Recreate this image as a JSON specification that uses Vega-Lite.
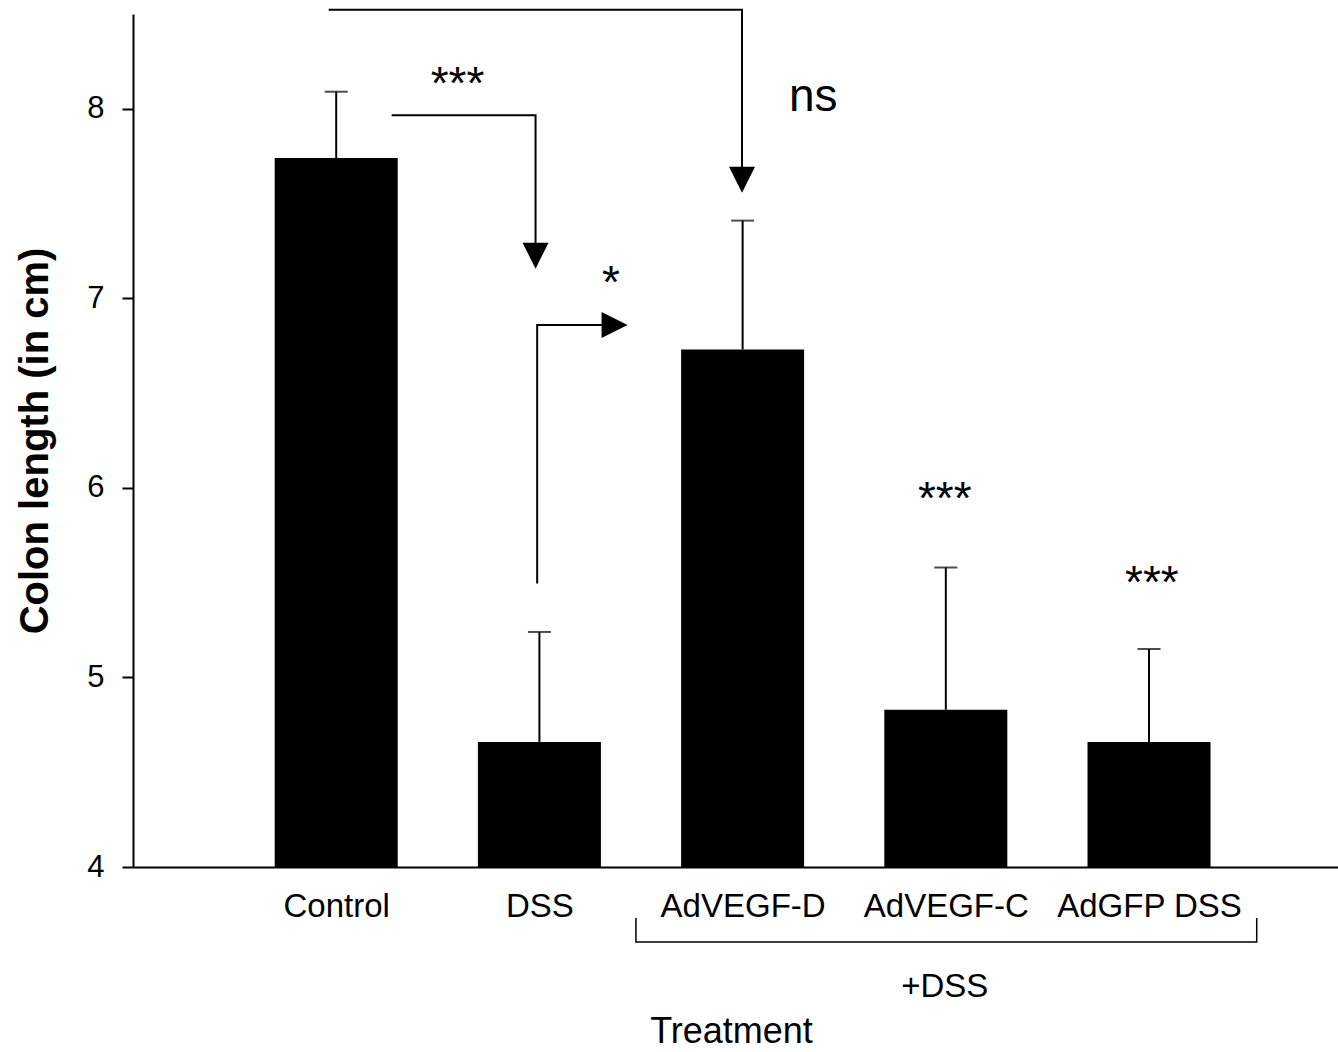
{
  "$schema": "https://vega.github.io/schema/vega-lite/v6.json",
  "width": 1205,
  "height": 853,
  "autosize": "none",
  "padding": {"left": 133, "top": 14, "right": 0, "bottom": 185},
  "background": "white",
  "config": {
    "view": {"stroke": null},
    "font": "Liberation Sans",
    "scale": {"continuousPadding": 0},
    "axis": {"grid": false, "domainColor": "black", "domainWidth": 2, "tickColor": "black", "tickWidth": 2, "labelColor": "black", "titleColor": "black", "labelFont": "Liberation Sans", "titleFont": "Liberation Sans"}
  },
  "datasets": {
    "bars": [
      {"treatment": "Control", "pos": 1, "mean": 7.74, "upper": 8.09},
      {"treatment": "DSS", "pos": 2, "mean": 4.66, "upper": 5.24},
      {"treatment": "AdVEGF-D", "pos": 3, "mean": 6.73, "upper": 7.41},
      {"treatment": "AdVEGF-C", "pos": 4, "mean": 4.83, "upper": 5.58},
      {"treatment": "AdGFP DSS", "pos": 5, "mean": 4.66, "upper": 5.15}
    ],
    "arrows": [
      {"g": "a1", "i": 1, "x": 1.273, "y": 7.966},
      {"g": "a1", "i": 2, "x": 1.981, "y": 7.966},
      {"g": "a1", "i": 3, "x": 1.981, "y": 7.26},
      {"g": "a2", "i": 1, "x": 0.963, "y": 8.523},
      {"g": "a2", "i": 2, "x": 2.997, "y": 8.523},
      {"g": "a2", "i": 3, "x": 2.997, "y": 7.66},
      {"g": "a3", "i": 1, "x": 1.989, "y": 5.496},
      {"g": "a3", "i": 2, "x": 1.989, "y": 6.859},
      {"g": "a3", "i": 3, "x": 2.33, "y": 6.859}
    ],
    "heads": [
      {"dir": "down", "x": 1.981, "y": 7.225},
      {"dir": "down", "x": 2.997, "y": 7.626},
      {"dir": "right", "x": 2.37, "y": 6.859}
    ],
    "bracket": [
      {"i": 1, "x": 2.475, "y": 3.731},
      {"i": 2, "x": 2.475, "y": 3.604},
      {"i": 3, "x": 5.53, "y": 3.604},
      {"i": 4, "x": 5.53, "y": 3.731}
    ],
    "stars": [
      {"label": "***", "x": 1.597, "y": 8.05},
      {"label": "*", "x": 2.352, "y": 7.003},
      {"label": "***", "x": 3.995, "y": 5.863},
      {"label": "***", "x": 5.014, "y": 5.42}
    ],
    "ns": [{"label": "ns", "x": 3.348, "y": 7.987}],
    "group": [{"label": "+DSS", "x": 3.995, "y": 3.314}]
  },
  "layer": [
    {
      "data": {"name": "bars"},
      "mark": {"type": "bar", "color": "black", "width": 123},
      "encoding": {
        "x": {"field": "pos", "type": "quantitative",
          "scale": {"domain": [0, 5.93], "nice": false, "zero": false, "padding": 0},
          "axis": {"orient": "bottom", "values": [1, 2, 3, 4, 5], "ticks": false, "tickSize": 0,
            "labelExpr": "['', 'Control', 'DSS', 'AdVEGF-D', 'AdVEGF-C', 'AdGFP DSS'][datum.value]",
            "labelFontSize": 33, "labelPadding": 49, "labelBaseline": "alphabetic", "labelFlush": false, "labelOverlap": false, "labelLimit": 0,
            "title": "Treatment", "titleFontSize": 36, "titleFontWeight": "normal", "titleBaseline": "alphabetic", "titleY": 175, "titleX": 598, "titleAnchor": "start", "titleAlign": "center"}},
        "y": {"field": "mean", "type": "quantitative",
          "scale": {"domain": [4, 8.5], "nice": false, "zero": false, "padding": 0},
          "axis": {"values": [4, 5, 6, 7, 8], "format": "d", "tickSize": 11, "labelFontSize": 31, "labelPadding": 18,
            "title": "Colon length (in cm)", "titleFontSize": 40, "titleFontWeight": "bold", "titleAngle": -90,
            "titleBaseline": "alphabetic", "titleX": -86, "titleY": 426.5, "titleAlign": "center"}},
        "y2": {"datum": 4}
      }
    },
    {
      "data": {"name": "bars"},
      "mark": {"type": "rule", "color": "black", "strokeWidth": 2},
      "encoding": {
        "x": {"field": "pos", "type": "quantitative"},
        "y": {"field": "mean", "type": "quantitative"},
        "y2": {"field": "upper"}
      }
    },
    {
      "data": {"name": "bars"},
      "mark": {"type": "tick", "orient": "horizontal", "color": "black", "size": 23, "thickness": 2},
      "encoding": {
        "x": {"field": "pos", "type": "quantitative"},
        "y": {"field": "upper", "type": "quantitative"}
      }
    },
    {
      "data": {"name": "arrows"},
      "mark": {"type": "line", "color": "black", "strokeWidth": 2},
      "encoding": {
        "x": {"field": "x", "type": "quantitative"},
        "y": {"field": "y", "type": "quantitative"},
        "detail": {"field": "g"},
        "order": {"field": "i"}
      }
    },
    {
      "data": {"name": "heads"},
      "mark": {"type": "point", "filled": true, "color": "black", "opacity": 1, "size": 676, "strokeWidth": 0},
      "encoding": {
        "x": {"field": "x", "type": "quantitative"},
        "y": {"field": "y", "type": "quantitative"},
        "shape": {"field": "dir", "type": "nominal", "legend": null,
          "scale": {"domain": ["down", "right"], "range": ["M-1,-1L1,-1L0,1Z", "M-1,-1L1,0L-1,1Z"]}}
      }
    },
    {
      "data": {"name": "bracket"},
      "mark": {"type": "line", "color": "black", "strokeWidth": 1.5},
      "encoding": {
        "x": {"field": "x", "type": "quantitative"},
        "y": {"field": "y", "type": "quantitative"},
        "order": {"field": "i"}
      }
    },
    {
      "data": {"name": "stars"},
      "mark": {"type": "text", "color": "black", "fontSize": 46, "baseline": "alphabetic", "align": "center"},
      "encoding": {
        "x": {"field": "x", "type": "quantitative"},
        "y": {"field": "y", "type": "quantitative"},
        "text": {"field": "label"}
      }
    },
    {
      "data": {"name": "ns"},
      "mark": {"type": "text", "color": "black", "fontSize": 46, "baseline": "alphabetic", "align": "center"},
      "encoding": {
        "x": {"field": "x", "type": "quantitative"},
        "y": {"field": "y", "type": "quantitative"},
        "text": {"field": "label"}
      }
    },
    {
      "data": {"name": "group"},
      "mark": {"type": "text", "color": "black", "fontSize": 33, "baseline": "alphabetic", "align": "center"},
      "encoding": {
        "x": {"field": "x", "type": "quantitative"},
        "y": {"field": "y", "type": "quantitative"},
        "text": {"field": "label"}
      }
    }
  ]
}
